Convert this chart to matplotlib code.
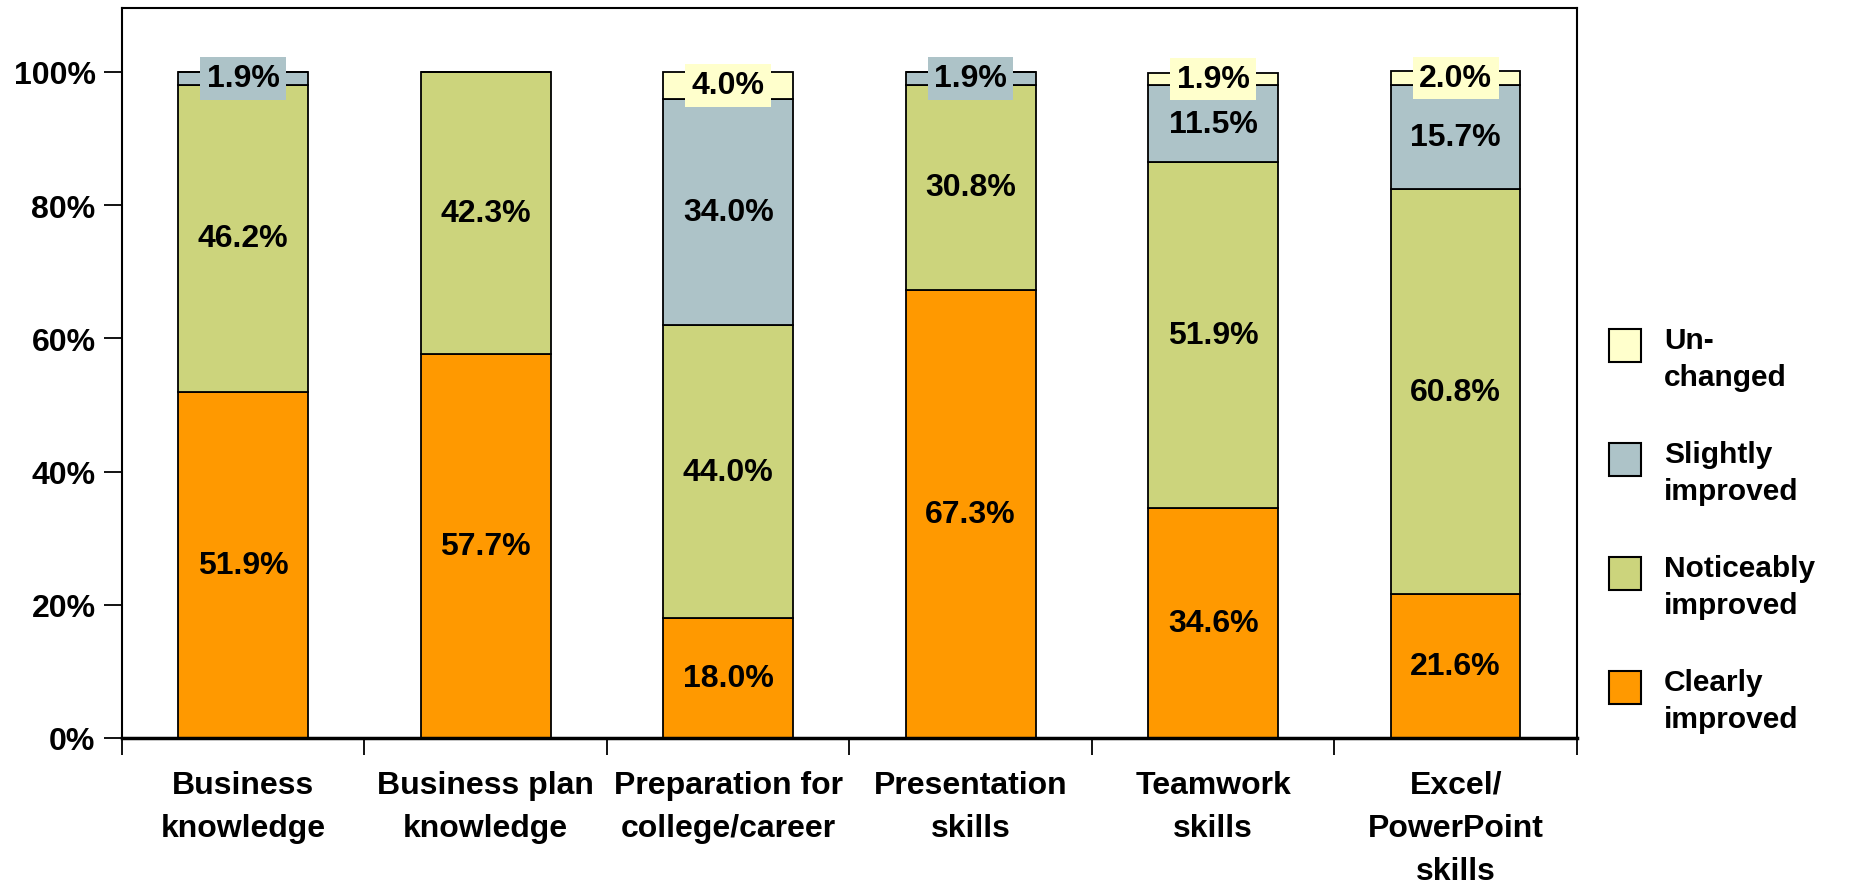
import numpy as np
import matplotlib
matplotlib.use("Agg")
import matplotlib.pyplot as plt
from matplotlib import font_manager
from matplotlib.patches import Rectangle

# Survey results, percent of respondents per skill area
categories = ["Business\nknowledge", "Business plan\nknowledge", "Preparation for\ncollege/career",
              "Presentation\nskills", "Teamwork\nskills", "Excel/\nPowerPoint\nskills"]
clearly = [51.9, 57.7, 18.0, 67.3, 34.6, 21.6]
noticeably = [46.2, 42.3, 44.0, 30.8, 51.9, 60.8]
slightly = [1.9, 0.0, 34.0, 1.9, 11.5, 15.7]
unchanged = [0.0, 0.0, 4.0, 0.0, 1.9, 2.0]

series = [
    ("Clearly\nimproved", clearly, "#FF9900"),
    ("Noticeably\nimproved", noticeably, "#CCD47C"),
    ("Slightly\nimproved", slightly, "#ADC3C8"),
    ("Un-\nchanged", unchanged, "#FFFFCC"),
]

# narrow bold face for axis and value text if it's around
names = {f.name for f in font_manager.fontManager.ttflist}
narrow = "Liberation Sans Narrow" if "Liberation Sans Narrow" in names else "Liberation Sans"
plt.rcParams["font.family"] = ["Liberation Sans", "DejaVu Sans"]
plt.rcParams["font.weight"] = "bold"

fig = plt.figure(figsize=(18.51, 8.87), dpi=100)
ax = fig.add_axes([0.0659, 0.1669, 0.786, 0.823])

x = np.arange(len(categories))
bottom = np.zeros(len(categories))
for name, vals, color in series:
    vals = np.array(vals)
    bars = ax.bar(x, vals, 0.535, bottom=bottom, color=color, edgecolor="black", linewidth=1.3)
    for xi, b, v in zip(x, bottom, vals):
        if v <= 0:
            continue
        small = v < 5
        ax.text(xi, b + v / 2, f"{v:.1f}%", ha="center", va="center", fontsize=23,
                fontweight="bold", family=narrow, zorder=5,
                bbox=dict(facecolor=color, edgecolor="none", pad=4.5) if small else None)
    bottom += vals

ax.set_xlim(-0.5, len(categories) - 0.5)
ax.set_ylim(0, 109.6)
ax.set_yticks(np.arange(0, 101, 20))
ax.set_yticklabels([f"{t}%" for t in range(0, 101, 20)], family=narrow, fontsize=23, fontweight="bold")
ax.tick_params(axis="y", length=13, width=1.3, direction="out", pad=6)

ax.set_xticks(x)
ax.set_xticklabels(categories, family=narrow, fontsize=23, fontweight="bold", linespacing=1.57)
ax.tick_params(axis="x", which="major", length=0, pad=23)
ax.set_xticks(np.arange(-0.5, len(categories)), minor=True)
ax.tick_params(axis="x", which="minor", length=12, width=1.3, direction="out")

for side in ["left", "right", "top"]:
    ax.spines[side].set_linewidth(1.5)
ax.spines["bottom"].set_linewidth(2.5)

# legend drawn by hand so the swatch sits on the first text line
fw, fh = fig.get_size_inches() * fig.dpi
for i, (name, vals, color) in enumerate(reversed(series)):
    top = 330 + i * 114
    fig.patches.append(Rectangle((1609 / fw, 1 - (top + 33) / fh), 32 / fw, 33 / fh,
                                 transform=fig.transFigure, facecolor=color,
                                 edgecolor="black", linewidth=1.5))
    fig.text(1664 / fw, 1 - (top - 3) / fh, name, ha="left", va="top", fontsize=21.5,
             fontweight="bold", linespacing=1.4)

fig.savefig("out.png", dpi=100)
